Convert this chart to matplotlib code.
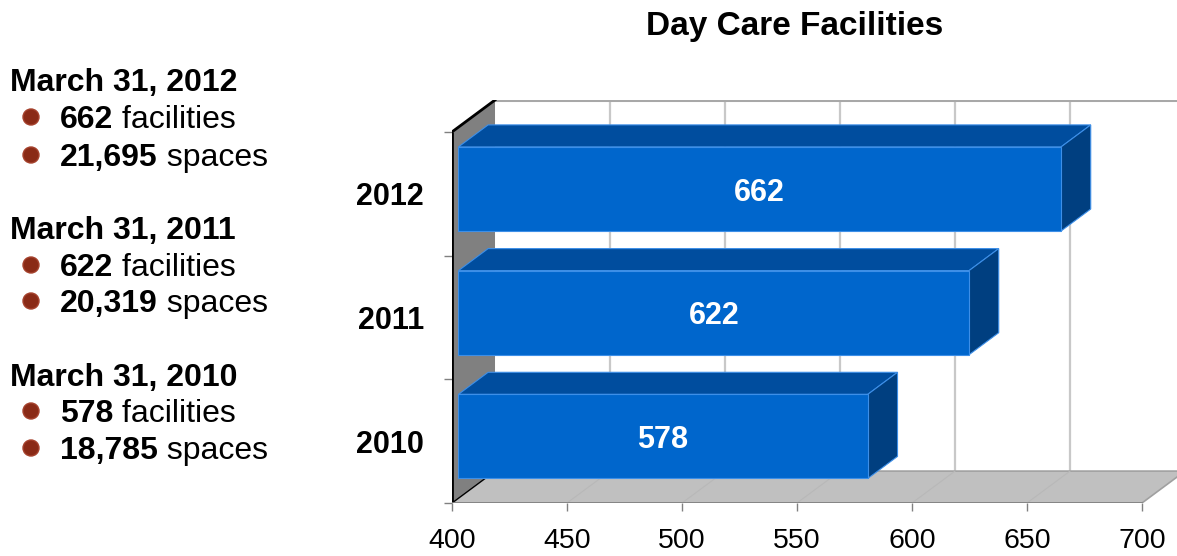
import matplotlib
matplotlib.use("Agg")
import matplotlib.pyplot as plt
from matplotlib.patches import Polygon, Rectangle, Circle

plt.rcParams['font.family'] = ['Liberation Sans', 'DejaVu Sans']

# data
years = ['2010', '2011', '2012']
facilities = [578, 622, 662]
spaces = ['18,785', '20,319', '21,695']
dates = ['March 31, 2010', 'March 31, 2011', 'March 31, 2012']
xticks = [400, 450, 500, 550, 600, 650, 700]
title = 'Day Care Facilities'

# 3d look (in data units)
DX, DY = 18.7, 0.258      # full depth offset
D0, D1 = 0.15, 0.84       # bar depth range
BH = 0.68                 # bar height
XMIN, XMAX = 400, 700

W, H = 1177, 556
fig = plt.figure(figsize=(W / 100, H / 100), dpi=100)

# overlay for the text column on the left
tx = fig.add_axes([0, 0, 1, 1])
tx.set_xlim(0, W)
tx.set_ylim(H, 0)
tx.axis('off')

renderer = fig.canvas.get_renderer()
fs = 23
rows = []
for i in [2, 1, 0]:
    rows.append((dates[i], None))
    rows.append((str(facilities[i]), ' facilities'))
    rows.append((spaces[i], ' spaces'))
ys = [80, 117, 155, 228, 265, 301, 375, 411, 448]
for (a, b), y in zip(rows, ys):
    if b is None:
        tx.text(10, y + 3, a, fontsize=fs, fontweight='bold', va='center', ha='left')
    else:
        tx.add_patch(Circle((31, y), 8, color='#8a2a16', ec='#a5412c', lw=1))
        t = tx.text(60, y + 3, a, fontsize=fs, fontweight='bold', va='center', ha='left')
        bb = t.get_window_extent(renderer)
        tx.text(60 + bb.width, y + 3, b, fontsize=fs, va='center', ha='left')

fig.text(795 / W, 1 - 27 / H, title, fontsize=24, fontweight='bold',
         ha='center', va='center')

# chart axes
left = 452 / W
bottom = (H - 503) / H
top = (H - 100) / H
ax = fig.add_axes([left, bottom, 1 - left, top - bottom])
ax.patch.set_visible(False)
ppu = 690 / 300.0
ax.set_xlim(XMIN, XMIN + (W - 452) / ppu)
ax.set_ylim(-0.5, 2.5 + DY)
for s in ax.spines.values():
    s.set_visible(False)

n = len(years)
# back wall grid
for v in xticks[1:]:
    ax.plot([v + DX, v + DX], [-0.5 + DY, n - 0.5 + DY], color='#c8c8c8', lw=1.6, zorder=1)
ax.plot([XMIN + DX, XMAX + DX + 5], [n - 0.5 + DY] * 2, color='#a8a8a8', lw=2.2, zorder=1)

# left wall
ax.add_patch(Polygon([(XMIN, -0.5), (XMIN, n - 0.5), (XMIN + DX, n - 0.5 + DY),
                      (XMIN + DX, -0.5 + DY)], closed=True, fc='#808080', ec='none', zorder=2))
# floor
ax.add_patch(Polygon([(XMIN, -0.5), (XMAX, -0.5), (XMAX + DX, -0.5 + DY),
                      (XMIN + DX, -0.5 + DY)], closed=True, fc='#c0c0c0', ec='#a0a0a0',
                     lw=1.2, zorder=2))
for v in xticks[1:-1]:
    ax.plot([v, v + DX], [-0.5, -0.5 + DY], color='#b8b8b8', lw=0.8, zorder=2)
ax.plot([XMIN, XMIN], [-0.5, n - 0.5], color='black', lw=2, zorder=3, solid_capstyle='butt')
ax.plot([XMIN, XMIN + DX], [n - 0.5, n - 0.5 + DY], color='black', lw=2, zorder=3)
ax.plot([XMIN, XMIN + DX], [-0.5, -0.5 + DY], color='black', lw=1, zorder=3)
ax.plot([XMIN, XMAX], [-0.5, -0.5], color='#808080', lw=1.2, zorder=3)

# bars
front_c, top_c, side_c, edge_c = '#0066cc', '#004d9e', '#003f80', '#3d8fe8'
for i, v in enumerate(facilities):
    y0 = i - BH / 2
    y1 = i + BH / 2
    ax.add_patch(Rectangle((XMIN + D0 * DX, y0 + D0 * DY), v - XMIN, BH,
                           fc=front_c, ec=edge_c, lw=0.8, zorder=5))
    ax.add_patch(Polygon([(XMIN + D0 * DX, y1 + D0 * DY), (v + D0 * DX, y1 + D0 * DY),
                          (v + D1 * DX, y1 + D1 * DY), (XMIN + D1 * DX, y1 + D1 * DY)],
                         closed=True, fc=top_c, ec=edge_c, lw=0.8, zorder=4))
    ax.add_patch(Polygon([(v + D0 * DX, y0 + D0 * DY), (v + D0 * DX, y1 + D0 * DY),
                          (v + D1 * DX, y1 + D1 * DY), (v + D1 * DX, y0 + D1 * DY)],
                         closed=True, fc=side_c, ec=edge_c, lw=0.8, zorder=4))
    ax.text((XMIN + v) / 2 + D0 * DX, i + D0 * DY - 0.03, str(v), color='white',
            fontsize=22, fontweight='bold', ha='center', va='center', zorder=6)

ax.set_xticks(xticks)
ax.set_xticklabels([str(t) for t in xticks])
ax.tick_params(axis='x', direction='out', length=6, width=1, color='#808080',
               labelsize=20.5, pad=12)
ax.set_yticks(range(n))
ax.set_yticklabels(years, fontweight='bold')
ax.set_yticks([k - 0.5 for k in range(n + 1)], minor=True)
ax.tick_params(axis='y', which='major', length=0, labelsize=22, pad=20)
ax.tick_params(axis='y', which='minor', direction='out', length=6, width=1, color='#808080')

fig.savefig('out.png', dpi=100)
